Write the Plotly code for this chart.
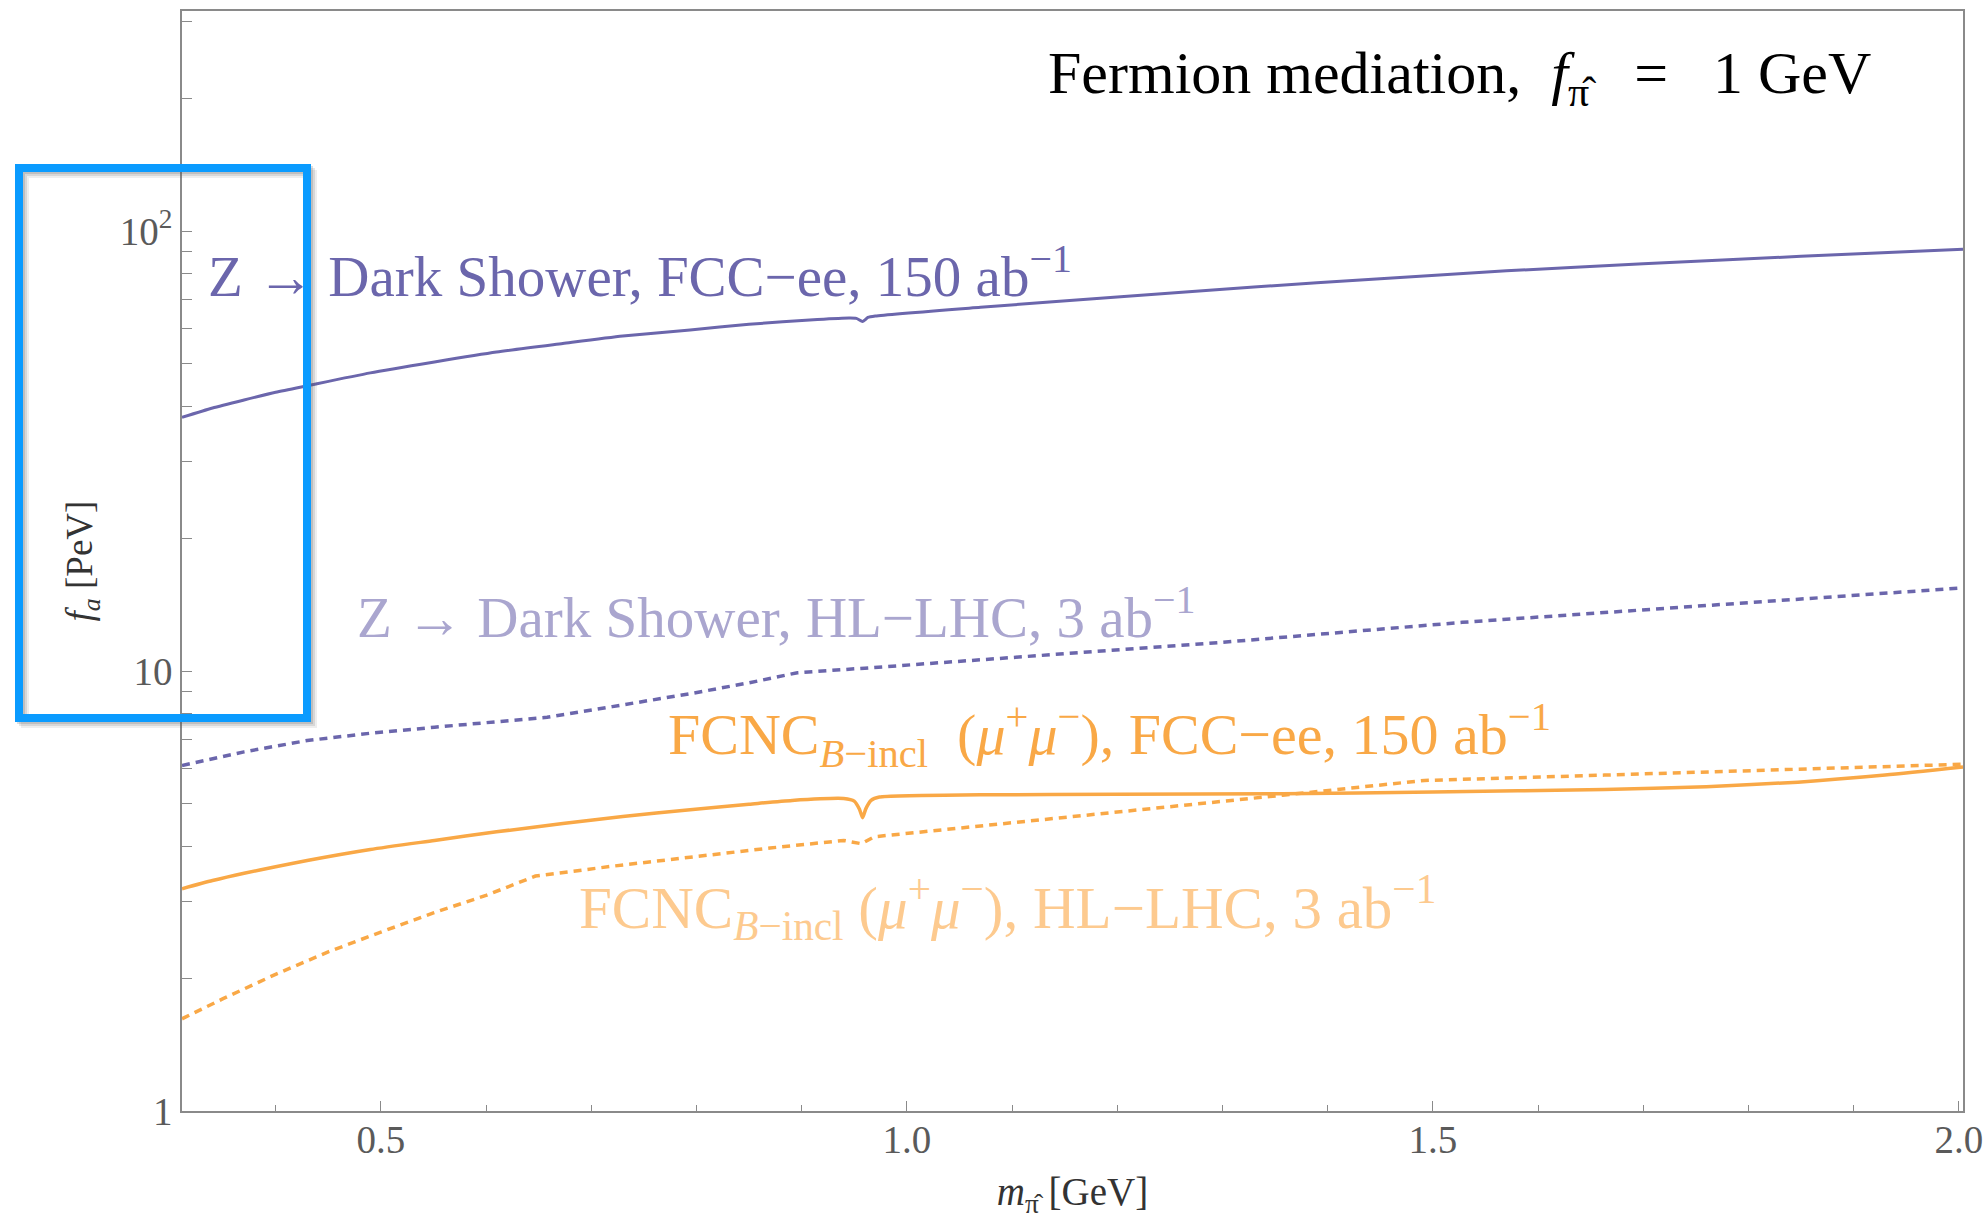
import plotly.graph_objects as go

# ---- data: projected reach on f_a [PeV] versus m_pi-hat [GeV] ----
m_z_fcc = [0.311, 0.34, 0.37, 0.40, 0.43, 0.49, 0.551, 0.61, 0.673, 0.73, 0.794, 0.85, 0.915,
           0.945, 0.952, 0.958, 0.963, 0.97, 1.07, 1.2, 1.33, 1.45, 1.57, 1.7, 1.85, 2.004]
fa_z_fcc = [37.7, 39.6, 41.3, 43.0, 44.5, 47.6, 50.4, 53.1, 55.5, 57.7, 59.6, 61.4, 62.9,
            63.4, 63.3, 62.3, 63.6, 64.1, 67.1, 70.8, 74.6, 77.9, 81.2, 84.2, 87.6, 90.9]

m_z_hllhc = [0.311, 0.37, 0.43, 0.49, 0.551, 0.61, 0.658, 0.72, 0.794, 0.85, 0.896,
             0.96, 1.07, 1.296, 1.528, 1.786, 2.004]
fa_z_hllhc = [6.10, 6.55, 6.95, 7.22, 7.45, 7.65, 7.85, 8.30, 8.88, 9.40, 9.91,
              10.15, 10.6, 11.6, 12.9, 14.2, 15.45]

m_b_fcc = [0.311, 0.34, 0.37, 0.40, 0.43, 0.49, 0.551, 0.61, 0.673, 0.73, 0.794, 0.85,
           0.891, 0.94, 0.95, 0.955, 0.958, 0.961, 0.966, 0.974, 1.07, 1.2, 1.357, 1.5,
           1.663, 1.76, 1.847, 1.93, 2.004]
fa_b_fcc = [3.20, 3.34, 3.47, 3.59, 3.71, 3.93, 4.12, 4.31, 4.50, 4.67, 4.84, 4.98,
            5.08, 5.13, 5.06, 4.85, 4.64, 4.86, 5.08, 5.17, 5.23, 5.245, 5.26, 5.31,
            5.38, 5.46, 5.59, 5.80, 6.05]

m_b_hllhc = [0.311, 0.35, 0.401, 0.45, 0.50, 0.55, 0.60, 0.647, 0.72, 0.794, 0.87, 0.94,
             0.957, 0.969, 1.07, 1.2, 1.357, 1.492, 1.663, 1.85, 2.004]
fa_b_hllhc = [1.62, 1.80, 2.05, 2.30, 2.55, 2.82, 3.09, 3.42, 3.60, 3.78, 3.96, 4.12,
              4.05, 4.20, 4.45, 4.78, 5.22, 5.64, 5.80, 5.97, 6.14]

x_tickvals = [0.5, 1.0, 1.5, 2.0]
x_ticktext = ["0.5", "1.0", "1.5", "2.0"]
y_tickvals = [1, 10, 100]
y_ticktext = ["1", "10", "10<sup>2</sup>"]
y_minor = [2, 3, 4, 5, 6, 7, 8, 9, 20, 30, 40, 50, 60, 70, 80, 90, 200, 300]

PURPLE = "#6b66ac"
PURPLE_LIGHT = "#aaa6cf"
ORANGE = "#f9a846"
ORANGE_LIGHT = "#fdca8f"
SERIF = "Liberation Serif"

W, H = 1984, 1219
L, R, T, B = 182, 1963, 11, 1111


def px(x):
    return (x - L) / (R - L)


def py(y):
    return (B - y) / (B - T)


fig = go.Figure()
fig.add_trace(go.Scatter(x=m_z_fcc, y=fa_z_fcc, mode="lines",
                         line=dict(color=PURPLE, width=3, shape="spline", smoothing=0.6),
                         hoverinfo="skip"))
fig.add_trace(go.Scatter(x=m_z_hllhc, y=fa_z_hllhc, mode="lines",
                         line=dict(color=PURPLE, width=3.5, dash="8px,6px"),
                         hoverinfo="skip"))
fig.add_trace(go.Scatter(x=m_b_fcc, y=fa_b_fcc, mode="lines",
                         line=dict(color=ORANGE, width=3.5, shape="spline", smoothing=0.6),
                         hoverinfo="skip"))
fig.add_trace(go.Scatter(x=m_b_hllhc, y=fa_b_hllhc, mode="lines",
                         line=dict(color=ORANGE, width=3.5, dash="8px,6px"),
                         hoverinfo="skip"))

SP = "\u00a0"
labels = [
    ("Fermion mediation," + SP * 2 + "<i>f</i><sub>π̂</sub>" + SP * 3 + "=" + SP * 3
     + "1 GeV", "black", 1873, 77, "right", 60),
    ("Z → Dark Shower, FCC−ee, 150 ab<sup>−1</sup>", PURPLE, 206, 272, "left", 57),
    ("Z → Dark Shower, HL−LHC, 3 ab<sup>−1</sup>", PURPLE_LIGHT, 355, 613, "left", 57),
    ("FCNC<sub><i>B</i>−incl</sub>" + SP * 2 + "(<i>μ</i><sup>+</sup><i>μ</i><sup>−</sup>), "
     "FCC−ee, 150 ab<sup>−1</sup>", ORANGE, 666, 735, "left", 58),
    ("FCNC<sub><i>B</i>−incl</sub> (<i>μ</i><sup>+</sup><i>μ</i><sup>−</sup>), "
     "HL−LHC, 3 ab<sup>−1</sup>", ORANGE_LIGHT, 577, 907, "left", 59),
]
for text, col, x0, y0, anc, size in labels:
    fig.add_annotation(text=text, xref="paper", yref="paper", x=px(x0), y=py(y0),
                       xanchor=anc, yanchor="middle", showarrow=False,
                       font=dict(family=SERIF, size=size, color=col))

# highlight box around the vertical axis title, with a soft drop shadow
for off, op in [(6, 0.10), (4, 0.15), (2, 0.2)]:
    fig.add_shape(type="rect", xref="paper", yref="paper",
                  x0=px(19 + off), x1=px(307 + off), y0=py(168 + off), y1=py(718 + off),
                  line=dict(color="rgba(90,90,90,%.2f)" % op, width=8), layer="above")
fig.add_shape(type="rect", xref="paper", yref="paper",
              x0=px(19), x1=px(307), y0=py(168), y1=py(718),
              line=dict(color="#0a9bff", width=8), layer="above")

axis_common = dict(showline=True, linecolor="#8a8a8a", linewidth=1.5, mirror=True,
                   showgrid=False, zeroline=False, ticks="inside", tickcolor="#8a8a8a",
                   tickwidth=1.2, tickfont=dict(family=SERIF, size=39, color="#5a5a5a"))

fig.update_xaxes(range=[0.311, 2.004], tickmode="array", tickvals=x_tickvals,
                 ticktext=x_ticktext, ticklen=10, ticklabelstandoff=-7,
                 minor=dict(dtick=0.1, tick0=0, ticks="inside", ticklen=6,
                            tickcolor="#8a8a8a", tickwidth=1.2),
                 title=dict(text="<i>m</i><sub>π̂</sub> [GeV]", standoff=20,
                            font=dict(family=SERIF, size=39, color="#333333")),
                 **axis_common)
fig.update_yaxes(type="log", range=[0, 2.5], tickmode="array", tickvals=y_tickvals,
                 ticktext=y_ticktext, ticklen=10,
                 minor=dict(tickmode="array", tickvals=y_minor, ticks="inside", ticklen=10,
                            tickcolor="#8a8a8a", tickwidth=1.2),
                 title=dict(text="<i>f<sub>a</sub></i> [PeV]", standoff=16,
                            font=dict(family=SERIF, size=37, color="#333333")),
                 **axis_common)

fig.update_layout(width=W, height=H, showlegend=False,
                  paper_bgcolor="white", plot_bgcolor="white",
                  margin=dict(l=L, r=W - R, t=T, b=H - B, autoexpand=False))

fig.write_html("out.html")
